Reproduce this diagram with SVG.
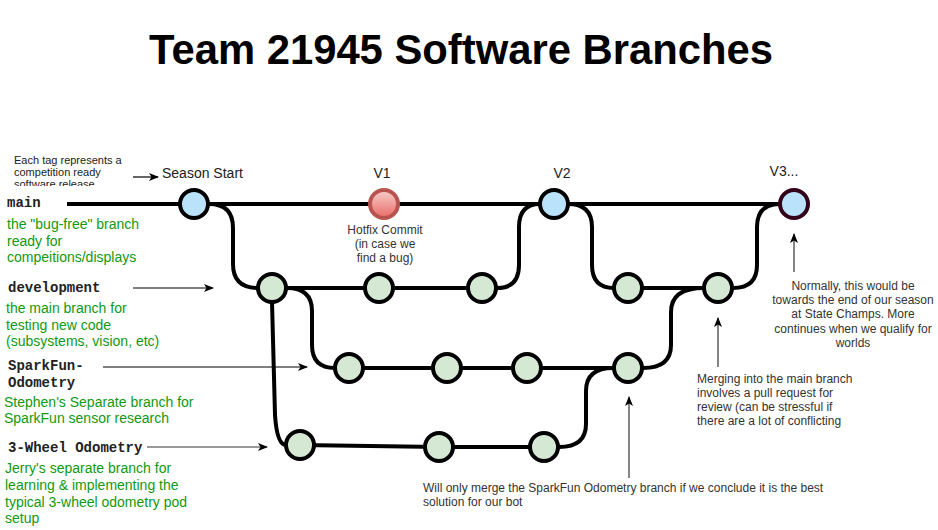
<svg xmlns="http://www.w3.org/2000/svg" width="938" height="530" viewBox="0 0 938 530">
<style>
.edge{fill:none;stroke:#000;stroke-width:4}
.ann{fill:none;stroke:#000;stroke-width:1.2}
.ann2{fill:none;stroke:#333;stroke-width:1.2}
.node{stroke:#000;stroke-width:4}
.blue{fill:#bbe2fb}
.green{fill:#d5e8d4}
.lbl{font-family:"Liberation Mono","Courier New",monospace;font-size:14px;font-weight:bold;fill:#222}
.desc{font-family:"Liberation Sans",Arial,sans-serif;font-size:14px;fill:#119911}
.tag{font-family:"Liberation Sans",Arial,sans-serif;font-size:14px;fill:#222}
.note{font-family:"Liberation Sans",Arial,sans-serif;font-size:12px;fill:#333}
.small{font-family:"Liberation Sans",Arial,sans-serif;font-size:11px;fill:#222}
</style>
<defs>
<marker id="arr" markerWidth="10" markerHeight="8" refX="9" refY="4" orient="auto" markerUnits="userSpaceOnUse">
<path d="M0,0 L10,4 L0,8 L2.5,4 Z" fill="#000"/>
</marker>
<linearGradient id="red" x1="0" y1="0" x2="0" y2="1">
<stop offset="0" stop-color="#f8cecc"/>
<stop offset="1" stop-color="#ea6b66"/>
</linearGradient>
<clipPath id="clipTag"><rect x="0" y="140" width="140" height="46"/></clipPath>
</defs>

<text x="461" y="64" text-anchor="middle" font-family="'Liberation Sans',Arial,sans-serif" font-size="42" font-weight="bold" textLength="624" lengthAdjust="spacingAndGlyphs">Team 21945 Software Branches</text>

<g id="connectors">
<path class="edge" d="M67 204 L780 204"/>
<path class="edge" d="M272 288 L482 288"/>
<path class="edge" d="M628 288 L718 288"/>
<path class="edge" d="M349 368 L628 368"/>
<path class="edge" d="M300 445 L439 447 L544 447"/>
<path class="edge" d="M209 204 Q233 204 233 228 L233 264 Q233 288 258 288"/>
<path class="edge" d="M287 288 Q312 288 312 311 L312 345 Q312 368 335 368"/>
<path class="edge" d="M272 302 L275 415 Q277 445 286 445"/>
<path class="edge" d="M497 288 Q519 288 519 265 L519 227 Q519 204 540 204"/>
<path class="edge" d="M568 204 Q592 204 592 227 L592 265 Q592 288 614 288"/>
<path class="edge" d="M733 288 Q757 288 757 265 L757 227 Q757 204 780 204"/>
<path class="edge" d="M643 368 Q671 368 671 345 L671 312 Q671 288 704 288"/>
<path class="edge" d="M559 447 Q586 447 586 424 L586 391 Q586 368 613 368"/>
<path class="ann" d="M133 177 L158 177" marker-end="url(#arr)"/>
<path class="ann" d="M133 288 L213 288" marker-end="url(#arr)"/>
<path class="ann" d="M103 367 L307 367" marker-end="url(#arr)"/>
<path class="ann2" d="M147 447 L267 447" marker-end="url(#arr)"/>
<path class="ann2" d="M794 272 L794 234" marker-end="url(#arr)"/>
<path class="ann2" d="M718 367 L718 318" marker-end="url(#arr)"/>
<path class="ann2" d="M629 478 L629 397" marker-end="url(#arr)"/>
</g>

<g id="n-season"><circle class="node blue" cx="194" cy="204" r="14"/></g>
<g id="n-v1"><circle cx="384" cy="204" r="14" fill="url(#red)" stroke="#b85450" stroke-width="4"/></g>
<g id="n-v2"><circle class="node blue" cx="554" cy="204" r="14"/></g>
<g id="n-v3"><circle class="blue" cx="794" cy="204" r="14" stroke="#33001a" stroke-width="4"/></g>

<g id="n-dev1"><circle class="node green" cx="272" cy="288" r="14"/></g>
<g id="n-dev2"><circle class="node green" cx="379" cy="288" r="14"/></g>
<g id="n-dev3"><circle class="node green" cx="482" cy="288" r="14"/></g>
<g id="n-dev4"><circle class="node green" cx="628" cy="288" r="14"/></g>
<g id="n-dev5"><circle class="node green" cx="718" cy="288" r="14"/></g>

<g id="n-sf1"><circle class="node green" cx="349" cy="368" r="14"/></g>
<g id="n-sf2"><circle class="node green" cx="447" cy="368" r="14"/></g>
<g id="n-sf3"><circle class="node green" cx="527" cy="368" r="14"/></g>
<g id="n-sf4"><circle class="node green" cx="628" cy="368" r="14"/></g>

<g id="n-3w1"><circle class="node green" cx="300" cy="445" r="14"/></g>
<g id="n-3w2"><circle class="node green" cx="439" cy="447" r="14"/></g>
<g id="n-3w3"><circle class="node green" cx="544" cy="447" r="14"/></g>

<g id="labels">
<g clip-path="url(#clipTag)">
<text class="small" x="14" y="164">Each tag represents a</text>
<text class="small" x="14" y="176">competition ready</text>
<text class="small" x="14" y="188">software release</text>
</g>
<text class="tag" x="162" y="178">Season Start</text>
<text class="tag" x="382" y="178" text-anchor="middle">V1</text>
<text class="tag" x="562" y="178" text-anchor="middle">V2</text>
<text class="tag" x="784" y="176" text-anchor="middle">V3...</text>
<text class="note" x="385" y="234" text-anchor="middle">Hotfix Commit</text>
<text class="note" x="385" y="248" text-anchor="middle">(in case we</text>
<text class="note" x="385" y="262" text-anchor="middle">find a bug)</text>

<text class="lbl" x="7" y="207">main</text>
<text class="desc" x="7" y="229">the "bug-free" branch</text>
<text class="desc" x="7" y="246">ready for</text>
<text class="desc" x="7" y="262">compeitions/displays</text>

<text class="lbl" x="8" y="292">development</text>
<text class="desc" x="6" y="313">the main branch for</text>
<text class="desc" x="6" y="330">testing new code</text>
<text class="desc" x="6" y="346">(subsystems, vision, etc)</text>

<text class="lbl" x="8" y="370">SparkFun-</text>
<text class="lbl" x="8" y="387">Odometry</text>
<text class="desc" x="4" y="407">Stephen's Separate branch for</text>
<text class="desc" x="4" y="423">SparkFun sensor research</text>

<text class="lbl" x="8" y="452">3-Wheel Odometry</text>
<text class="desc" x="5" y="473">Jerry's separate branch for</text>
<text class="desc" x="5" y="490">learning &amp; implementing the</text>
<text class="desc" x="5" y="507">typical 3-wheel odometry pod</text>
<text class="desc" x="5" y="523">setup</text>

<text class="note" x="853" y="290" text-anchor="middle">Normally, this would be</text>
<text class="note" x="853" y="304" text-anchor="middle">towards the end of our season</text>
<text class="note" x="853" y="318" text-anchor="middle">at State Champs. More</text>
<text class="note" x="853" y="333" text-anchor="middle">continues when we qualify for</text>
<text class="note" x="853" y="347" text-anchor="middle">worlds</text>

<text class="note" x="697" y="383">Merging into the main branch</text>
<text class="note" x="697" y="397">involves a pull request for</text>
<text class="note" x="697" y="411">review (can be stressful if</text>
<text class="note" x="697" y="425">there are a lot of conflicting</text>

<text class="note" x="423" y="492">Will only merge the SparkFun Odometry branch if we conclude it is the best</text>
<text class="note" x="423" y="506">solution for our bot</text>
</g>
</svg>
